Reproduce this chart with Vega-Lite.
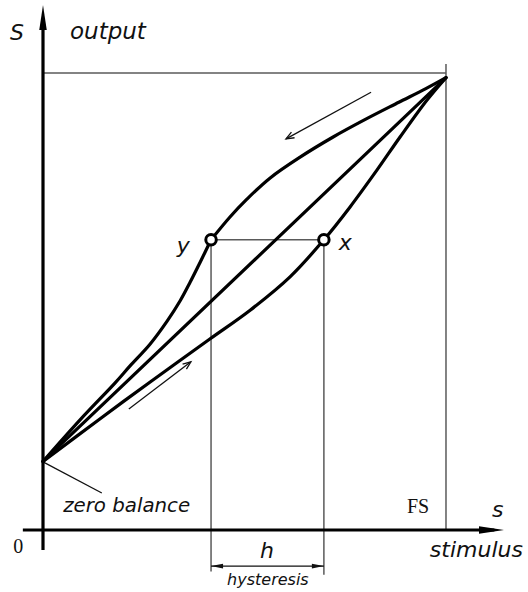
{
  "$schema": "https://vega.github.io/schema/vega-lite/v6.json",
  "width": 528,
  "height": 592,
  "autosize": "none",
  "padding": 0,
  "background": "white",
  "config": {"view": {"stroke": null}},
  "datasets": {
    "curves": [
      {"series": "descending-lower", "s": 0, "S": 15},
      {"series": "descending-lower", "s": 9.2, "S": 24.1},
      {"series": "descending-lower", "s": 17.9, "S": 32.2},
      {"series": "descending-lower", "s": 21.6, "S": 35.9},
      {"series": "descending-lower", "s": 26.6, "S": 40.7},
      {"series": "descending-lower", "s": 30.8, "S": 45.7},
      {"series": "descending-lower", "s": 34.0, "S": 50.1},
      {"series": "descending-lower", "s": 36.5, "S": 54.2},
      {"series": "descending-lower", "s": 39.0, "S": 58.6},
      {"series": "descending-lower", "s": 41.7, "S": 63.5},
      {"series": "descending-upper", "s": 41.7, "S": 63.5},
      {"series": "descending-upper", "s": 46.4, "S": 68.5},
      {"series": "descending-upper", "s": 50.6, "S": 72.4},
      {"series": "descending-upper", "s": 56.3, "S": 77.0},
      {"series": "descending-upper", "s": 63.8, "S": 81.6},
      {"series": "descending-upper", "s": 72.0, "S": 86.0},
      {"series": "descending-upper", "s": 80.1, "S": 89.9},
      {"series": "descending-upper", "s": 88.3, "S": 93.6},
      {"series": "descending-upper", "s": 95.0, "S": 96.6},
      {"series": "descending-upper", "s": 100, "S": 99},
      {"series": "ideal", "s": 0, "S": 15},
      {"series": "ideal", "s": 100, "S": 99},
      {"series": "ascending", "s": 0, "S": 15},
      {"series": "ascending", "s": 14.1, "S": 24.3},
      {"series": "ascending", "s": 26.6, "S": 32.4},
      {"series": "ascending", "s": 41.4, "S": 41.8},
      {"series": "ascending", "s": 51.4, "S": 48.1},
      {"series": "ascending", "s": 61.3, "S": 55.4},
      {"series": "ascending", "s": 69.7, "S": 63.5},
      {"series": "ascending", "s": 76.2, "S": 70.7},
      {"series": "ascending", "s": 82.9, "S": 78.8},
      {"series": "ascending", "s": 88.6, "S": 86.0},
      {"series": "ascending", "s": 95.3, "S": 94.1},
      {"series": "ascending", "s": 100, "S": 99}
    ],
    "segments": [
      {"kind": "guide", "s": 0, "S": 100, "s2": 100, "S2": 100},
      {"kind": "guide", "s": 100, "S": 102, "s2": 100, "S2": 0},
      {"kind": "guide", "s": 41.7, "S": 63.5, "s2": 69.7, "S2": 63.5},
      {"kind": "guide", "s": 41.7, "S": 63.5, "s2": 41.7, "S2": -9.1},
      {"kind": "guide", "s": 69.7, "S": 63.5, "s2": 69.7, "S2": -9.8},
      {"kind": "pointer", "s": 41.7, "S": -7.9, "s2": 69.7, "S2": -7.9},
      {"kind": "pointer", "s": 0, "S": 14.9, "s2": 14.6, "S2": 8.1},
      {"kind": "pointer", "s": 81.4, "S": 95.8, "s2": 60.3, "S2": 85.6},
      {"kind": "pointer", "s": 21.3, "S": 26.5, "s2": 36.7, "S2": 36.8},
      {"kind": "axis", "s": 0, "S": -4.4, "s2": 0, "S2": 112},
      {"kind": "axis", "s": -5.0, "S": 0, "s2": 112, "S2": 0}
    ],
    "heads": [
      {"kind": "axis", "s": 0, "S": 114.9, "dir": 270},
      {"kind": "axis", "s": 114.4, "S": 0, "dir": 0},
      {"kind": "dim", "s": 41.7, "S": -7.9, "dir": 180},
      {"kind": "dim", "s": 69.7, "S": -7.9, "dir": 0},
      {"kind": "flow", "s": 60.3, "S": 85.6, "dir": 151},
      {"kind": "flow", "s": 36.7, "S": 36.8, "dir": 323}
    ],
    "points": [
      {"name": "y", "s": 41.7, "S": 63.5},
      {"name": "x", "s": 69.7, "S": 63.5}
    ],
    "labels": [
      {"kind": "big", "text": "S", "s": -8.2, "S": 107.2},
      {"kind": "output", "text": "output", "s": 6.7, "S": 107.4},
      {"kind": "mid", "text": "zero balance", "s": 5.0, "S": 3.9},
      {"kind": "big", "text": "s", "s": 111.4, "S": 2.8},
      {"kind": "big", "text": "stimulus", "s": 96.0, "S": -5.9},
      {"kind": "bigc", "text": "h", "s": 55.6, "S": -6.1},
      {"kind": "small", "text": "hysteresis", "s": 55.8, "S": -12.0},
      {"kind": "big", "text": "y", "s": 33.2, "S": 60.6},
      {"kind": "big", "text": "x", "s": 73.4, "S": 61.3},
      {"kind": "serif", "text": "FS", "s": 90.3, "S": 3.7},
      {"kind": "serif", "text": "0", "s": -7.4, "S": -5.0}
    ]
  },
  "encoding": {
    "x": {"field": "s", "type": "quantitative", "axis": null, "scale": {"domain": [-10.67, 120.35], "nice": false, "zero": false}},
    "y": {"field": "S", "type": "quantitative", "axis": null, "scale": {"domain": [-13.57, 115.98], "nice": false, "zero": false}}
  },
  "layer": [
    {
      "data": {"name": "segments"},
      "transform": [{"filter": "datum.kind === 'guide'"}],
      "mark": {"type": "rule", "color": "#5a5a5a", "strokeWidth": 1.5},
      "encoding": {"x2": {"field": "s2"}, "y2": {"field": "S2"}}
    },
    {
      "data": {"name": "segments"},
      "transform": [{"filter": "datum.kind === 'pointer'"}],
      "mark": {"type": "rule", "color": "#111", "strokeWidth": 1.3},
      "encoding": {"x2": {"field": "s2"}, "y2": {"field": "S2"}}
    },
    {
      "data": {"name": "segments"},
      "transform": [{"filter": "datum.kind === 'axis'"}],
      "mark": {"type": "rule", "color": "#000", "strokeWidth": 3.2},
      "encoding": {"x2": {"field": "s2"}, "y2": {"field": "S2"}}
    },
    {
      "data": {"name": "heads"},
      "transform": [{"filter": "datum.kind === 'axis'"}],
      "mark": {"type": "point", "shape": "M0,0L-2,-0.3L-2,0.3Z", "size": 625, "filled": true, "color": "#000", "opacity": 1, "strokeWidth": 0},
      "encoding": {"angle": {"field": "dir", "type": "quantitative", "scale": null}}
    },
    {
      "data": {"name": "heads"},
      "transform": [{"filter": "datum.kind === 'dim'"}],
      "mark": {"type": "point", "shape": "M0,0L-2,-0.4L-2,0.4Z", "size": 144, "filled": true, "color": "#111", "opacity": 1, "strokeWidth": 0},
      "encoding": {"angle": {"field": "dir", "type": "quantitative", "scale": null}}
    },
    {
      "data": {"name": "heads"},
      "transform": [{"filter": "datum.kind === 'flow'"}],
      "mark": {"type": "point", "shape": "M-2,-0.8L0,0L-2,0.8", "size": 64, "filled": false, "color": "#111", "opacity": 1, "strokeWidth": 1.3},
      "encoding": {"angle": {"field": "dir", "type": "quantitative", "scale": null}}
    },
    {
      "data": {"name": "curves"},
      "mark": {"type": "line", "color": "#000", "strokeWidth": 3.2, "interpolate": "catmull-rom", "strokeCap": "round"},
      "encoding": {"detail": {"field": "series", "type": "nominal"}}
    },
    {
      "data": {"name": "points"},
      "mark": {"type": "point", "shape": "circle", "size": 110, "filled": false, "fill": "white", "fillOpacity": 1, "stroke": "#000", "strokeWidth": 3, "opacity": 1}
    },
    {
      "data": {"name": "labels"},
      "transform": [{"filter": "datum.kind === 'big'"}],
      "mark": {"type": "text", "font": "DejaVu Sans", "fontStyle": "italic", "fontSize": 22, "baseline": "alphabetic", "align": "left", "color": "#111"},
      "encoding": {"text": {"field": "text"}}
    },
    {
      "data": {"name": "labels"},
      "transform": [{"filter": "datum.kind === 'output'"}],
      "mark": {"type": "text", "font": "DejaVu Sans", "fontStyle": "italic", "fontSize": 23, "baseline": "alphabetic", "align": "left", "color": "#111"},
      "encoding": {"text": {"field": "text"}}
    },
    {
      "data": {"name": "labels"},
      "transform": [{"filter": "datum.kind === 'bigc'"}],
      "mark": {"type": "text", "font": "DejaVu Sans", "fontStyle": "italic", "fontSize": 22, "baseline": "alphabetic", "align": "center", "color": "#111"},
      "encoding": {"text": {"field": "text"}}
    },
    {
      "data": {"name": "labels"},
      "transform": [{"filter": "datum.kind === 'mid'"}],
      "mark": {"type": "text", "font": "DejaVu Sans", "fontStyle": "italic", "fontSize": 19.8, "baseline": "alphabetic", "align": "left", "color": "#111"},
      "encoding": {"text": {"field": "text"}}
    },
    {
      "data": {"name": "labels"},
      "transform": [{"filter": "datum.kind === 'small'"}],
      "mark": {"type": "text", "font": "DejaVu Sans", "fontStyle": "italic", "fontSize": 16, "baseline": "alphabetic", "align": "center", "color": "#111"},
      "encoding": {"text": {"field": "text"}}
    },
    {
      "data": {"name": "labels"},
      "transform": [{"filter": "datum.kind === 'serif'"}],
      "mark": {"type": "text", "font": "Liberation Serif", "fontSize": 20, "baseline": "alphabetic", "align": "left", "color": "#111"},
      "encoding": {"text": {"field": "text"}}
    }
  ]
}
